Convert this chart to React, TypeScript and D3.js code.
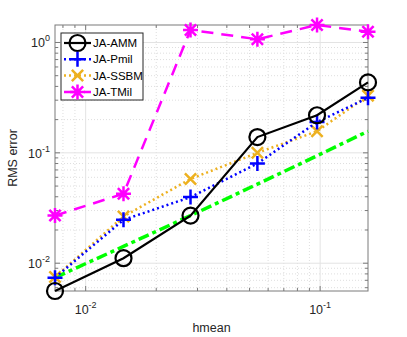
import React, { useEffect, useRef } from 'react';
import * as d3 from 'd3';

// hmean values (x axis)
const hmean = [0.0074, 0.0145, 0.028, 0.054, 0.097, 0.16];
const amm = [0.0056, 0.0111, 0.027, 0.139, 0.219, 0.435];
const pmil = [0.0074, 0.0247, 0.0397, 0.08, 0.19, 0.315];
const ssbm = [0.0075, 0.0265, 0.058, 0.1, 0.157, 0.33];
const tmil = [0.027, 0.0426, 1.3, 1.07, 1.44, 1.25];
const refLine = [0.0074, 0.0142, 0.027, 0.052, 0.094, 0.157];

const seriesNames = ['JA-AMM', 'JA-Pmil', 'JA-SSBM', 'JA-TMil'];
const xTickExps = [-2, -1];
const yTickExps = [-2, -1, 0];

const width = 407, height = 337;
const margin = { top: 25, right: 39, bottom: 46, left: 55 };

export default function App() {
  const ref = useRef<SVGSVGElement>(null);

  useEffect(() => {
    const svg = d3.select(ref.current);
    svg.selectAll('*').remove();

    const x = d3.scaleLog()
      .domain([0.0074, 0.16])
      .range([margin.left, width - margin.right]);
    const y = d3.scaleLog()
      .domain([0.0056, 1.44])
      .range([height - margin.bottom, margin.top]);

    const x0 = margin.left, x1 = width - margin.right;
    const y0 = height - margin.bottom, y1 = margin.top;

    // minor / major tick values
    const decades = (lo: number, hi: number) => {
      const majors: number[] = [], minors: number[] = [];
      for (let e = Math.floor(Math.log10(lo)); e <= Math.ceil(Math.log10(hi)); e++) {
        for (let m = 1; m < 10; m++) {
          const v = m * Math.pow(10, e);
          if (v < lo * 0.999 || v > hi * 1.001) continue;
          (m === 1 ? majors : minors).push(v);
        }
      }
      return { majors, minors };
    };
    const xt = decades(0.0074, 0.16);
    const yt = decades(0.0056, 1.44);

    const grid = svg.append('g');
    // minor grid, dotted
    grid.selectAll('.xm').data(xt.minors).enter().append('line')
      .attr('x1', d => x(d)).attr('x2', d => x(d)).attr('y1', y0).attr('y2', y1)
      .attr('stroke', '#dedede').attr('stroke-width', 1).attr('stroke-dasharray', '1,2');
    grid.selectAll('.ym').data(yt.minors).enter().append('line')
      .attr('y1', d => y(d)).attr('y2', d => y(d)).attr('x1', x0).attr('x2', x1)
      .attr('stroke', '#dedede').attr('stroke-width', 1).attr('stroke-dasharray', '1,2');
    // major grid
    grid.selectAll('.xM').data(xt.majors).enter().append('line')
      .attr('x1', d => x(d)).attr('x2', d => x(d)).attr('y1', y0).attr('y2', y1)
      .attr('stroke', '#e3e3e3').attr('stroke-width', 1);
    grid.selectAll('.yM').data(yt.majors).enter().append('line')
      .attr('y1', d => y(d)).attr('y2', d => y(d)).attr('x1', x0).attr('x2', x1)
      .attr('stroke', '#e3e3e3').attr('stroke-width', 1);

    // ticks on all four sides, inward
    const axisCol = '#7a7a7a';
    const tk = svg.append('g').attr('stroke', axisCol).attr('stroke-width', 1);
    const allX = [...xt.majors.map(v => [v, 5]), ...xt.minors.map(v => [v, 3])];
    const allY = [...yt.majors.map(v => [v, 5]), ...yt.minors.map(v => [v, 3])];
    allX.forEach(([v, l]) => {
      tk.append('line').attr('x1', x(v)).attr('x2', x(v)).attr('y1', y0).attr('y2', y0 - l);
      tk.append('line').attr('x1', x(v)).attr('x2', x(v)).attr('y1', y1).attr('y2', y1 + l);
    });
    allY.forEach(([v, l]) => {
      tk.append('line').attr('y1', y(v)).attr('y2', y(v)).attr('x1', x0).attr('x2', x0 + l);
      tk.append('line').attr('y1', y(v)).attr('y2', y(v)).attr('x1', x1).attr('x2', x1 - l);
    });

    // box
    svg.append('rect')
      .attr('x', x0).attr('y', y1).attr('width', x1 - x0).attr('height', y0 - y1)
      .attr('fill', 'none').attr('stroke', axisCol).attr('stroke-width', 1);

    const font = 'Liberation Sans, Arial, sans-serif';
    // tick labels
    xTickExps.forEach(e => {
      const t = svg.append('text').attr('x', x(Math.pow(10, e))).attr('y', y0 + 23)
        .attr('text-anchor', 'middle').attr('font-family', font).attr('font-size', 12.5).attr('fill', '#262626');
      t.append('tspan').text('10');
      t.append('tspan').attr('dy', -6).attr('font-size', 9).text(String(e));
    });
    yTickExps.forEach(e => {
      const t = svg.append('text').attr('x', x0 - 5).attr('y', y(Math.pow(10, e)) + 5)
        .attr('text-anchor', 'end').attr('font-family', font).attr('font-size', 12.5).attr('fill', '#262626');
      t.append('tspan').text('10');
      t.append('tspan').attr('dy', -6).attr('font-size', 9).text(String(e));
    });

    svg.append('text').attr('x', (x0 + x1) / 2).attr('y', 332)
      .attr('text-anchor', 'middle').attr('font-family', font).attr('font-size', 12.5).attr('fill', '#262626')
      .text('hmean');
    svg.append('text').attr('transform', `translate(17,${(y0 + y1) / 2}) rotate(-90)`)
      .attr('text-anchor', 'middle').attr('font-family', font).attr('font-size', 12.5).attr('fill', '#262626')
      .text('RMS error');

    const line = d3.line<number>().x((d, i) => x(hmean[i])).y(d => y(d));

    // marker drawing
    const marker = (g: any, kind: string, cx: number, cy: number, col: string) => {
      const r = 7.5;
      if (kind === 'o') {
        g.append('circle').attr('cx', cx).attr('cy', cy).attr('r', 8)
          .attr('fill', 'none').attr('stroke', col).attr('stroke-width', 2.2);
      } else if (kind === '+') {
        g.append('path').attr('d', `M${cx - r},${cy}H${cx + r}M${cx},${cy - r}V${cy + r}`)
          .attr('stroke', col).attr('stroke-width', 2.5);
      } else if (kind === 'x') {
        const s = r * 0.75;
        g.append('path').attr('d', `M${cx - s},${cy - s}L${cx + s},${cy + s}M${cx - s},${cy + s}L${cx + s},${cy - s}`)
          .attr('stroke', col).attr('stroke-width', 2.5);
      } else if (kind === '*') {
        const s = r * 0.75;
        g.append('path').attr('d',
          `M${cx - r},${cy}H${cx + r}M${cx},${cy - r}V${cy + r}M${cx - s},${cy - s}L${cx + s},${cy + s}M${cx - s},${cy + s}L${cx + s},${cy - s}`)
          .attr('stroke', col).attr('stroke-width', 2.5);
      }
    };

    const series = [
      { name: seriesNames[0], data: amm, color: '#000000', dash: null, width: 2.2, mk: 'o' },
      { name: seriesNames[1], data: pmil, color: '#0000ff', dash: '2,3', width: 2.5, mk: '+' },
      { name: seriesNames[2], data: ssbm, color: '#edb120', dash: '2,3', width: 2.5, mk: 'x' },
      { name: seriesNames[3], data: tmil, color: '#ff00ff', dash: '12,8', width: 2.5, mk: '*' },
    ];

    const plot = svg.append('g');
    // green reference line
    plot.append('path').datum(refLine).attr('d', line)
      .attr('fill', 'none').attr('stroke', '#00ff00').attr('stroke-width', 3.5)
      .attr('stroke-dasharray', '11,4,4,4');

    series.slice().reverse().forEach(s => {
      plot.append('path').datum(s.data).attr('d', line)
        .attr('fill', 'none').attr('stroke', s.color).attr('stroke-width', s.width)
        .attr('stroke-dasharray', s.dash);
      s.data.forEach((v, i) => marker(plot, s.mk, x(hmean[i]), y(v), s.color));
    });

    // legend
    const lg = svg.append('g');
    lg.append('rect').attr('x', 61).attr('y', 33).attr('width', 82).attr('height', 67)
      .attr('fill', '#ffffff').attr('stroke', '#262626').attr('stroke-width', 1);
    series.forEach((s, i) => {
      const ly = 43 + i * 16.3;
      lg.append('line').attr('x1', 64).attr('x2', 91).attr('y1', ly).attr('y2', ly)
        .attr('stroke', s.color).attr('stroke-width', s.width).attr('stroke-dasharray', s.dash);
      marker(lg, s.mk, 77.5, ly, s.color);
      lg.append('text').attr('x', 93).attr('y', ly + 4).attr('font-family', font).attr('font-size', 11.5)
        .attr('fill', '#000').text(s.name);
    });
  }, []);

  return (
    <svg ref={ref} width={width} height={height}
      style={{ position: 'absolute', left: 0, top: 0, background: '#fff' }} />
  );
}
